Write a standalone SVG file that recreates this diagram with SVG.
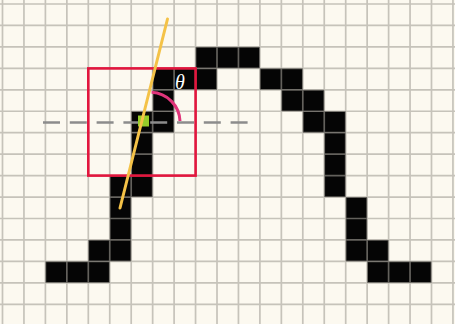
<svg xmlns="http://www.w3.org/2000/svg" width="455" height="324" viewBox="0 0 455 324">
<style>
.cell{fill:#050505}
.grid{fill:none;stroke:#a29e96;stroke-opacity:0.6;stroke-width:1.7}
</style>
<rect x="0" y="0" width="455" height="324" fill="#fcf9f0"/>
<g id="pixels" transform="translate(2.5 4) scale(21.45)">
<rect class="cell" x="9" y="2" width="3" height="1"/>
<rect class="cell" x="7" y="3" width="3" height="1"/>
<rect class="cell" x="12" y="3" width="2" height="1"/>
<rect class="cell" x="7" y="4" width="1" height="1"/>
<rect class="cell" x="13" y="4" width="2" height="1"/>
<rect class="cell" x="6" y="5" width="2" height="1"/>
<rect class="cell" x="14" y="5" width="2" height="1"/>
<rect class="cell" x="6" y="6" width="1" height="2"/>
<rect class="cell" x="15" y="6" width="1" height="3"/>
<rect class="cell" x="5" y="8" width="2" height="1"/>
<rect class="cell" x="5" y="9" width="1" height="2"/>
<rect class="cell" x="16" y="9" width="1" height="2"/>
<rect class="cell" x="4" y="11" width="2" height="1"/>
<rect class="cell" x="16" y="11" width="2" height="1"/>
<rect class="cell" x="2" y="12" width="3" height="1"/>
<rect class="cell" x="17" y="12" width="3" height="1"/>
<path class="grid" vector-effect="non-scaling-stroke" d="M0 -0.2V15M1 -0.2V15M2 -0.2V15M3 -0.2V15M4 -0.2V15M5 -0.2V15M6 -0.2V15M7 -0.2V15M8 -0.2V15M9 -0.2V15M10 -0.2V15M11 -0.2V15M12 -0.2V15M13 -0.2V15M14 -0.2V15M15 -0.2V15M16 -0.2V15M17 -0.2V15M18 -0.2V15M19 -0.2V15M20 -0.2V15M21 -0.2V15M-0.2 0H21.2M-0.2 1H21.2M-0.2 2H21.2M-0.2 3H21.2M-0.2 4H21.2M-0.2 5H21.2M-0.2 6H21.2M-0.2 7H21.2M-0.2 8H21.2M-0.2 9H21.2M-0.2 10H21.2M-0.2 11H21.2M-0.2 12H21.2M-0.2 13H21.2M-0.2 14H21.2"/>
</g>
<g id="overlay">
<line id="horizontal" x1="43" y1="122.5" x2="248" y2="122.5" stroke="#8c8c8c" stroke-width="2.5" stroke-dasharray="17 9.8"/>
<rect id="window" x="88.3" y="68.4" width="107.3" height="107.2" fill="none" stroke="#e2163e" stroke-width="2.6"/>
<rect id="center" x="138" y="115.5" width="11" height="11" fill="#96cc2a"/>
<line id="tangent" x1="167.5" y1="19" x2="120" y2="208" stroke="#f4c247" stroke-width="3" stroke-linecap="round"/>
<path id="angle-arc" d="M151.6 92.3A30 30 0 0 1 180 121" fill="none" stroke="#e0357a" stroke-width="3"/>
<text x="175" y="88.5" font-family="'Liberation Serif', 'DejaVu Serif', serif" font-style="italic" font-size="20" fill="#ffffff">θ</text>
</g>
</svg>
